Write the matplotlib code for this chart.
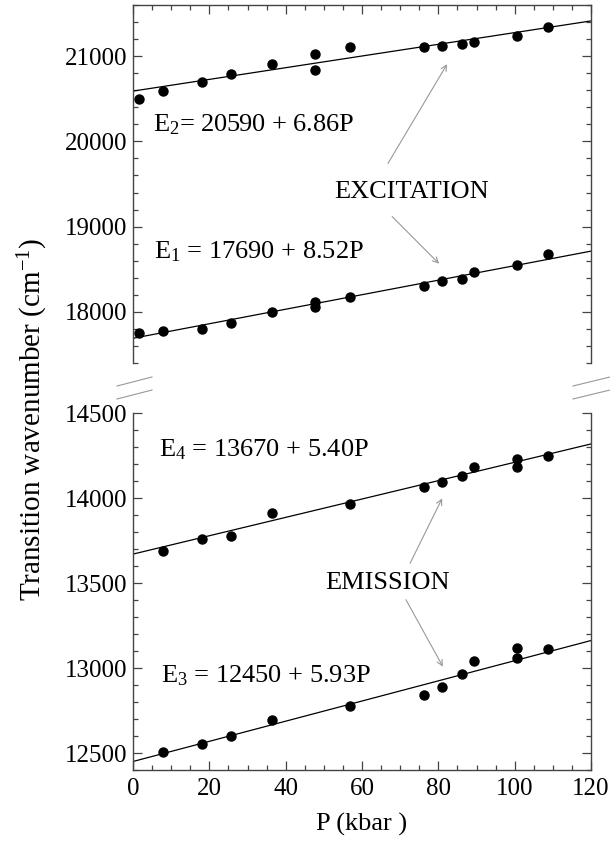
import matplotlib
matplotlib.use('Agg')
import matplotlib.pyplot as plt
import numpy as np
from matplotlib.lines import Line2D
from matplotlib.ticker import MultipleLocator

plt.rcParams['font.family'] = ['Liberation Serif', 'DejaVu Serif']
plt.rcParams['mathtext.fontset'] = 'custom'
plt.rcParams['mathtext.rm'] = 'Liberation Serif'
plt.rcParams['mathtext.it'] = 'Liberation Serif:italic'

# pressure (kbar) and transition wavenumbers (cm-1)
p_exc = [1.7, 7.9, 18.2, 25.6, 36.3, 47.8, 47.8, 56.9, 76.2, 81.0, 86.2, 89.3, 100.5, 108.8]
e2 = [20498, 20592, 20702, 20796, 20902, 21024, 20835, 21102, 21102, 21122, 21145, 21165, 21239, 21337]
e1 = [17757, 17780, 17804, 17867, 18000, 18118, 18059, 18169, 18302, 18365, 18388, 18467, 18545, 18682]

p_em = [7.9, 18.2, 25.6, 36.3, 56.9, 76.2, 81.0, 86.2, 89.3, 100.5, 100.5, 108.8]
e4 = [13690, 13757, 13776, 13912, 13965, 14065, 14094, 14128, 14182, 14229, 14180, 14249]
e3 = [12503, 12553, 12600, 12694, 12776, 12841, 12888, 12962, 13041, 13119, 13057, 13109]

# linear fits  E = a + b*P
fit_a = {'E1': 17690, 'E2': 20590, 'E3': 12450, 'E4': 13670}
fit_b = {'E1': 8.52, 'E2': 6.86, 'E3': 5.93, 'E4': 5.40}

W, H = 610, 846
fig = plt.figure(figsize=(W / 100, H / 100), dpi=100)

def px(x0, y0, x1, y1):
    return [x0 / W, (H - y1) / H, (x1 - x0) / W, (y1 - y0) / H]

ax1 = fig.add_axes(px(133, 5, 591, 363))
ax2 = fig.add_axes(px(133, 413, 591, 770))

spine_col = '#444444'
fs = 19
for ax in (ax1, ax2):
    ax.set_xlim(0, 120)
    ax.xaxis.set_major_locator(MultipleLocator(20))
    ax.xaxis.set_minor_locator(MultipleLocator(5))
    for s in ax.spines.values():
        s.set_color(spine_col)
        s.set_linewidth(1.0)
    ax.tick_params(which='both', direction='in', left=True, right=True,
                   color=spine_col, width=0.9, labelsize=18, pad=4)
    ax.tick_params(which='major', length=6.5)
    ax.tick_params(which='minor', length=3.5)

ax1.set_ylim(17400, 21600)
ax1.yaxis.set_major_locator(MultipleLocator(1000))
ax1.yaxis.set_minor_locator(MultipleLocator(200))
ax1.spines['bottom'].set_visible(False)
ax1.tick_params(which='both', top=True, bottom=False, labelbottom=False)

ax2.set_ylim(12400, 14500)
ax2.yaxis.set_major_locator(MultipleLocator(500))
ax2.yaxis.set_minor_locator(MultipleLocator(100))
ax2.spines['top'].set_visible(False)
ax2.tick_params(which='both', top=False, bottom=True)
ax2.tick_params(axis='x', pad=5.5)

xf = np.array([0, 120])
for ax, p, ys, key in [(ax1, p_exc, e2, 'E2'), (ax1, p_exc, e1, 'E1'),
                       (ax2, p_em, e4, 'E4'), (ax2, p_em, e3, 'E3')]:
    ax.plot(xf, fit_a[key] + fit_b[key] * xf, color='black', lw=0.9)
    ax.plot(p, ys, 'o', color='black', ms=6.5, clip_on=False, zorder=3)

ax1.text(5.2, 20190, 'E$_2$= 20590 + 6.86P', fontsize=fs, va='center')
ax1.text(5.5, 18706, 'E$_1$ = 17690 + 8.52P', fontsize=fs, va='center')
ax2.text(6.9, 14283, 'E$_4$ = 13670 + 5.40P', fontsize=fs, va='center')
ax2.text(7.3, 12952, 'E$_3$ = 12450 + 5.93P', fontsize=fs, va='center')

ax1.text(73.1, 19412, 'EXCITATION', fontsize=fs, ha='center', va='center')
ax2.text(66.7, 13498, 'EMISSION', fontsize=fs, ha='center', va='center')

arr = dict(arrowstyle='->', color='#999999', lw=0.8, shrinkA=0, shrinkB=0)
ax1.annotate('', xy=(82.3, 20906), xytext=(66.8, 19741), arrowprops=arr)
ax1.annotate('', xy=(80.2, 18565), xytext=(67.9, 19118), arrowprops=arr)
ax2.annotate('', xy=(81.0, 13998), xytext=(72.6, 13616), arrowprops=arr)
ax2.annotate('', xy=(81.2, 13008), xytext=(71.5, 13402), arrowprops=arr)

ax2.set_xlabel('P (kbar )', fontsize=fs, labelpad=9.5)
fig.text(33 / W, 1 - 419 / H, 'Transition wavenumber (cm$^{-1}$)', fontsize=21,
         rotation=90, ha='center', va='center')

# axis break marks
for x0, x1 in [(117, 152), (573, 610)]:
    for y0 in (386, 399):
        fig.add_artist(Line2D([x0 / W, x1 / W], [1 - y0 / H, 1 - (y0 - 9) / H],
                              transform=fig.transFigure, color='#999999', lw=0.8))

fig.savefig('out.png', dpi=100)
